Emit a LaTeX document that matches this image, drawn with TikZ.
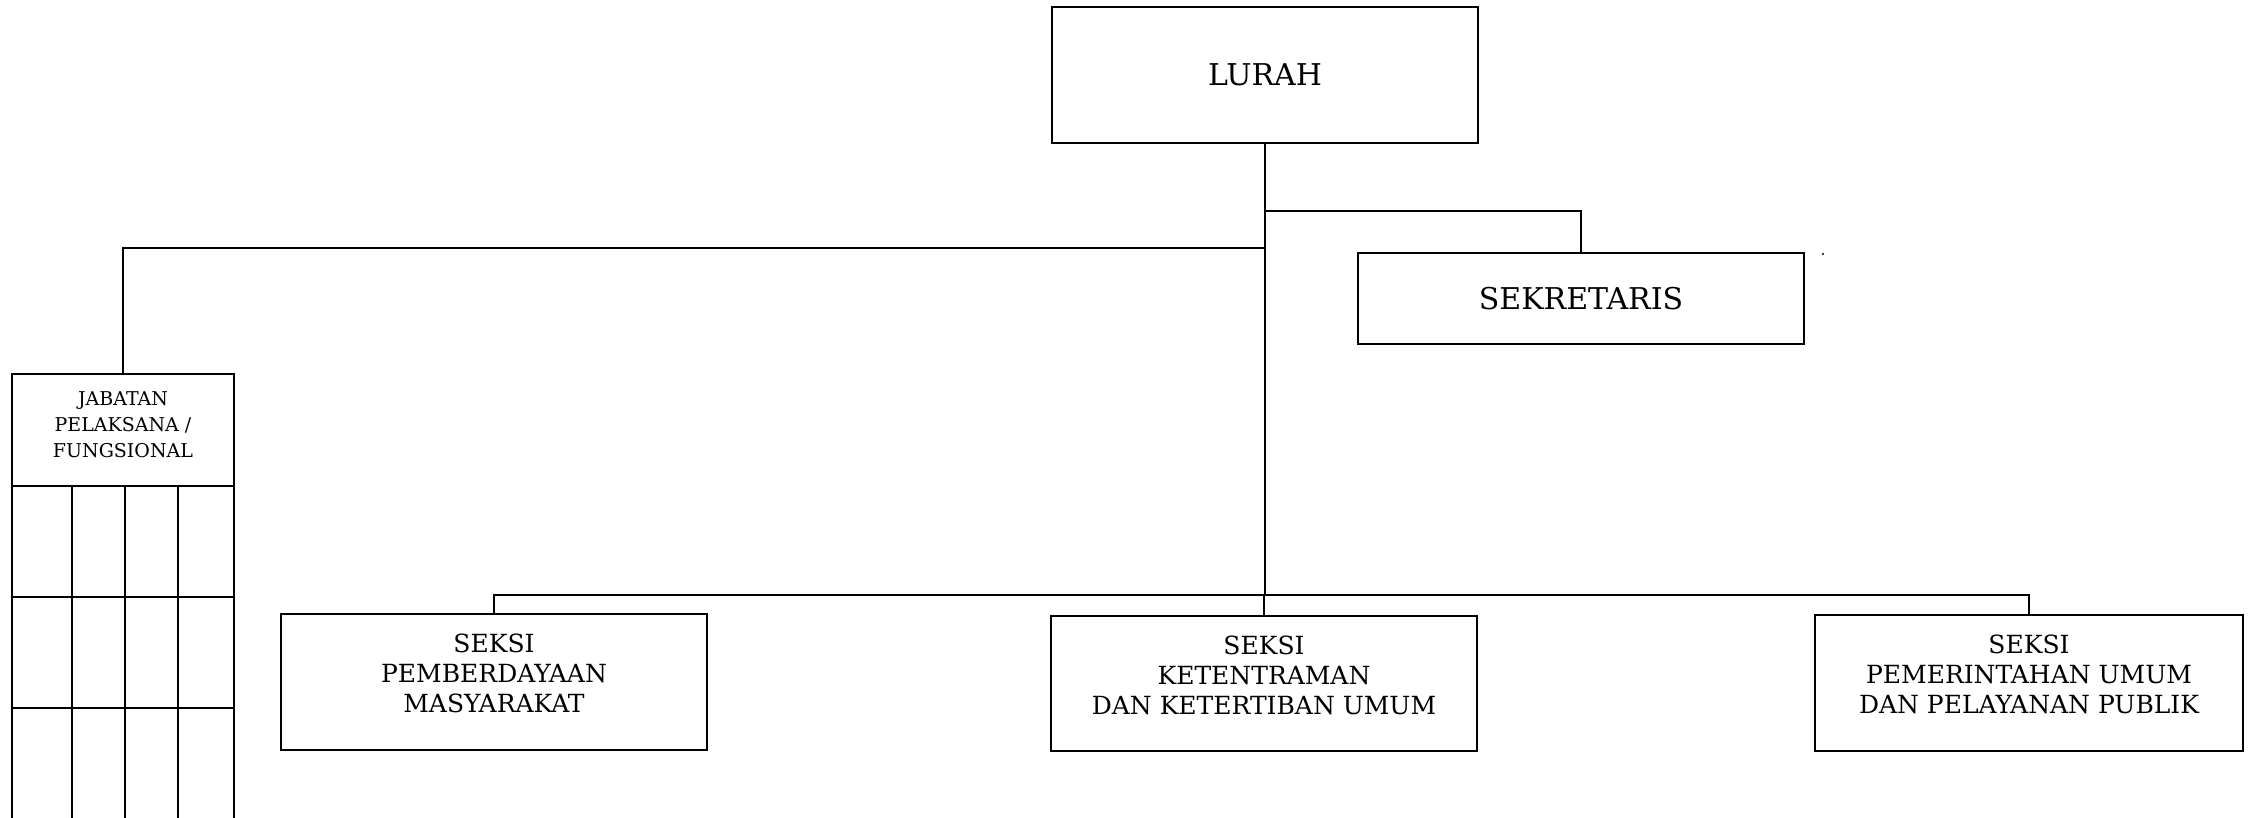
\documentclass[tikz,border=0pt]{standalone}
\usepackage{fontspec}
\setmainfont{DejaVu Serif}
\begin{document}
\begin{tikzpicture}[x=1pt,y=-1pt,
  line width=1.6pt,
  box/.style={draw, rectangle, inner sep=0pt, outer sep=0pt, align=center},
  bigtext/.style={font=\fontsize{30}{36}\selectfont},
  midtext/.style={font=\fontsize{25}{30}\selectfont, align=center, inner sep=0pt},
  smalltext/.style={font=\fontsize{19}{26}\selectfont, align=center, inner sep=0pt},
  link/.style={draw, line width=1.6pt}]
\useasboundingbox (0,0) rectangle (2251,818);
\begin{scope}
\clip (0,0) rectangle (2251,818);
% top
\node[box, bigtext, minimum width=426pt, minimum height=136pt] (lurah) at (1265,75) {LURAH};
\node[box, bigtext, minimum width=446pt, minimum height=91pt] (sek) at (1581,298.5) {SEKRETARIS};
% seksi boxes
\node[box, minimum width=426pt, minimum height=136pt] (s1) at (494,682) {};
\node[box, minimum width=426pt, minimum height=135pt] (s2) at (1264,683.5) {};
\node[box, minimum width=428pt, minimum height=136pt] (s3) at (2029,683) {};
\node[midtext] (t1) at ([yshift=9pt]s1.center) {SEKSI\\PEMBERDAYAAN\\MASYARAKAT};
\node[midtext] (t2) at ([yshift=8pt]s2.center) {SEKSI\\KETENTRAMAN\\DAN KETERTIBAN UMUM};
\node[midtext] (t3) at ([yshift=9pt]s3.center) {SEKSI\\PEMERINTAHAN UMUM\\DAN PELAYANAN PUBLIK};
% jabatan
\node[box, minimum width=222pt, minimum height=112pt] (jab) at (123,430) {};
\node[smalltext] (jt) at ([yshift=5pt]jab.center) {JABATAN\\PELAKSANA /\\FUNGSIONAL};
\draw (jab.south west) -- (12,830);
\draw (jab.south east) -- (234,830);
\draw (72,486) -- (72,830);
\draw (125,486) -- (125,830);
\draw (178,486) -- (178,830);
\draw (12,597) -- (234,597);
\draw (12,708) -- (234,708);
% connector coordinates
\coordinate (ysek) at (1265,211);
\coordinate (yjab) at (1265,248);
\coordinate (ybar) at (1265,595);
\draw[link] (lurah.south) -- (ybar);
\draw[link] (ysek) -- (sek.north |- ysek) -- (sek.north);
\draw[link] (yjab) -- (jab.north |- yjab) -- (jab.north);
\draw[link] (s1.north) -- (s1.north |- ybar) -- (s3.north |- ybar) -- (s3.north);
\draw[link] (s2.north) -- (s2.north |- ybar);
\fill (1823,254) circle (1.2pt);
\end{scope}
\end{tikzpicture}
\end{document}
